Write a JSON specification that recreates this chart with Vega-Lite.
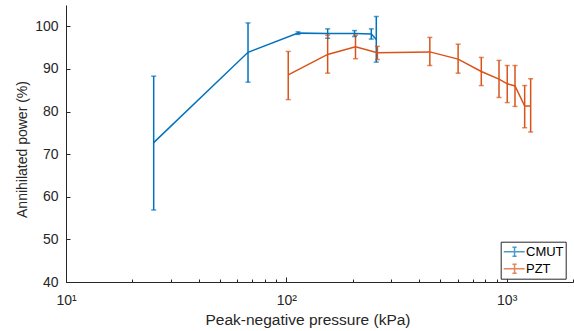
{
  "$schema": "https://vega.github.io/schema/vega-lite/v6.json",
  "width": 507,
  "height": 277,
  "autosize": {"type": "none"},
  "padding": {"left": 66, "top": 5, "right": 1, "bottom": 49},
  "background": "white",
  "config": {
    "font": "Liberation Sans",
    "view": {"stroke": null},
    "axis": {
      "domainColor": "#262626",
      "domainWidth": 1,
      "tickColor": "#262626",
      "tickWidth": 1,
      "labelColor": "#262626",
      "titleColor": "#262626",
      "labelFont": "Liberation Sans",
      "titleFont": "Liberation Sans",
      "labelFontSize": 14,
      "titleFontSize": 14,
      "titleFontWeight": "normal",
      "grid": false
    }
  },
  "data": {
    "values": [
      {"series": "CMUT", "p": 25, "y": 72.7, "lo": 56.9, "hi": 88.3},
      {"series": "CMUT", "p": 67, "y": 93.9, "lo": 86.9, "hi": 100.8},
      {"series": "CMUT", "p": 113, "y": 98.4, "lo": 98.1, "hi": 98.7},
      {"series": "CMUT", "p": 154, "y": 98.3, "lo": 97.2, "hi": 99.4},
      {"series": "CMUT", "p": 204, "y": 98.3, "lo": 97.6, "hi": 99.0},
      {"series": "CMUT", "p": 243, "y": 98.2, "lo": 97.0, "hi": 99.4},
      {"series": "CMUT", "p": 256, "y": 96.9, "lo": 91.6, "hi": 102.3},
      {"series": "PZT", "p": 102, "y": 88.6, "lo": 82.8, "hi": 94.1},
      {"series": "PZT", "p": 154, "y": 93.4, "lo": 89.0, "hi": 97.9},
      {"series": "PZT", "p": 206, "y": 95.2, "lo": 92.4, "hi": 97.9},
      {"series": "PZT", "p": 259, "y": 93.8, "lo": 92.2, "hi": 95.3},
      {"series": "PZT", "p": 448, "y": 94.0, "lo": 90.8, "hi": 97.4},
      {"series": "PZT", "p": 602, "y": 92.3, "lo": 89.0, "hi": 95.8},
      {"series": "PZT", "p": 767, "y": 89.4, "lo": 86.1, "hi": 92.7},
      {"series": "PZT", "p": 923, "y": 87.6, "lo": 83.3, "hi": 92.0},
      {"series": "PZT", "p": 1006, "y": 86.5, "lo": 82.1, "hi": 90.8},
      {"series": "PZT", "p": 1091, "y": 86.0, "lo": 81.2, "hi": 90.8},
      {"series": "PZT", "p": 1207, "y": 81.3, "lo": 76.2, "hi": 86.1},
      {"series": "PZT", "p": 1285, "y": 81.3, "lo": 75.2, "hi": 87.7}
    ]
  },
  "encoding": {
    "x": {
      "field": "p",
      "type": "quantitative",
      "scale": {"type": "log", "domain": [10, 2000], "nice": false},
      "axis": {
        "title": "Peak-negative pressure (kPa)",
        "titleFontSize": 15.5,
        "titleX": 241.5,
        "titleY": 42,
        "titleAlign": "center",
        "titleBaseline": "alphabetic",
        "titleAnchor": "start",
        "values": [10, 20, 30, 40, 50, 60, 70, 80, 90, 100, 200, 300, 400, 500, 600, 700, 800, 900, 1000, 2000],
        "labelExpr": "datum.value == 10 ? '10¹' : datum.value == 100 ? '10²' : datum.value == 1000 ? '10³' : ''",
        "tickSize": {"condition": {"test": "datum.value == 10 || datum.value == 100 || datum.value == 1000", "value": -5}, "value": -3},
        "labelPadding": 16,
        "labelFlush": false,
        "labelOverlap": false
      }
    },
    "color": {
      "field": "series",
      "type": "nominal",
      "scale": {"domain": ["CMUT", "PZT"], "range": ["#0072BD", "#D95319"]},
      "legend": {
        "title": null,
        "orient": "none",
        "legendX": 434.7,
        "legendY": 236.7,
        "symbolType": "M-1.0,0H2.0M0.55,-0.65V0.65M0.25,-0.65H0.85M0.25,0.65H0.85",
        "symbolSize": 196,
        "symbolStrokeWidth": 1.5,
        "symbolFillColor": "transparent",
        "labelFont": "Liberation Sans",
        "labelFontSize": 13,
        "labelColor": "#000000",
        "labelOffset": 7.3,
        "rowPadding": 1,
        "strokeColor": "#262626",
        "fillColor": "white",
        "padding": 2
      }
    }
  },
  "layer": [
    {
      "mark": {"type": "rule", "strokeWidth": 1.5},
      "encoding": {
        "y": {
          "field": "lo",
          "type": "quantitative",
          "scale": {"domain": [40, 105], "nice": false, "zero": false},
          "axis": {
            "title": "Annihilated power (%)",
            "titleX": -40,
            "titleY": 144,
            "titleAngle": 270,
            "titleAlign": "center",
            "titleBaseline": "alphabetic",
            "values": [40, 50, 60, 70, 80, 90, 100],
            "tickSize": -4,
            "labelPadding": 12
          }
        },
        "y2": {"field": "hi"}
      }
    },
    {
      "mark": {"type": "tick", "orient": "horizontal", "size": 5, "thickness": 1.5},
      "encoding": {"y": {"field": "lo", "type": "quantitative"}}
    },
    {
      "mark": {"type": "tick", "orient": "horizontal", "size": 5, "thickness": 1.5},
      "encoding": {"y": {"field": "hi", "type": "quantitative"}}
    },
    {
      "mark": {"type": "line", "strokeWidth": 1.5},
      "encoding": {"y": {"field": "y", "type": "quantitative"}}
    }
  ]
}
